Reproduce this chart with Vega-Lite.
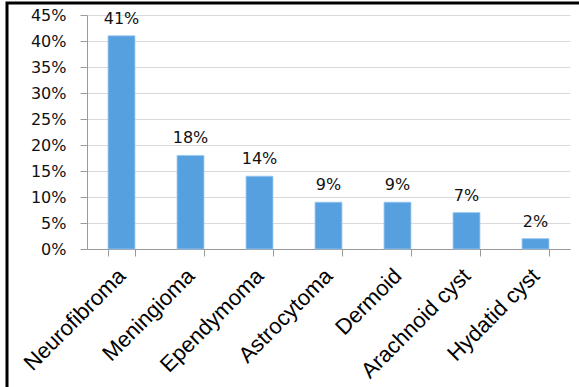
{
  "$schema": "https://vega.github.io/schema/vega-lite/v6.json",
  "autosize": {"type": "none"},
  "padding": {"left": 7, "top": 3, "right": 0, "bottom": 0},
  "width": 574,
  "height": 386,
  "background": "white",
  "config": {
    "view": {"stroke": "black", "strokeWidth": 3},
    "axis": {"domainColor": "#9a9a9a", "tickColor": "#9a9a9a", "gridColor": "#d9d9d9"}
  },
  "data": {
    "values": [
      {"tumor": "Neurofibroma", "pct": 0.41},
      {"tumor": "Meningioma", "pct": 0.18},
      {"tumor": "Ependymoma", "pct": 0.14},
      {"tumor": "Astrocytoma", "pct": 0.09},
      {"tumor": "Dermoid", "pct": 0.09},
      {"tumor": "Arachnoid cyst", "pct": 0.07},
      {"tumor": "Hydatid cyst", "pct": 0.02}
    ]
  },
  "encoding": {
    "x": {
      "field": "tumor",
      "type": "nominal",
      "sort": null,
      "scale": {"range": [80, 563], "paddingInner": 0.61, "paddingOuter": 0.305},
      "axis": {
        "title": null,
        "offset": -140,
        "tickBand": "extent",
        "tickSize": 7,
        "labelAngle": -45,
        "labelAlign": "right",
        "labelBaseline": "middle",
        "labelPadding": 16,
        "labelFont": "Liberation Sans",
        "labelFontSize": 22,
        "labelColor": "#000000",
        "labelOverlap": false,
        "labelLimit": 400,
        "grid": false
      }
    },
    "y": {
      "field": "pct",
      "type": "quantitative",
      "scale": {"domain": [0, 0.45], "range": [246, 12], "nice": false},
      "axis": {
        "title": null,
        "offset": -80,
        "format": ".0%",
        "values": [0, 0.05, 0.1, 0.15, 0.2, 0.25, 0.3, 0.35, 0.4, 0.45],
        "tickSize": 7,
        "labelPadding": 14,
        "labelFont": "DejaVu Sans",
        "labelFontSize": 16,
        "labelColor": "#111111",
        "grid": true
      }
    }
  },
  "layer": [
    {"mark": {"type": "bar", "color": "#57a0e0", "stroke": "#9cc8f0", "strokeWidth": 0.8}},
    {
      "mark": {"type": "text", "baseline": "alphabetic", "dy": -12, "font": "DejaVu Sans", "fontSize": 16, "color": "#111111"},
      "encoding": {"text": {"field": "pct", "type": "quantitative", "format": ".0%"}}
    }
  ]
}
